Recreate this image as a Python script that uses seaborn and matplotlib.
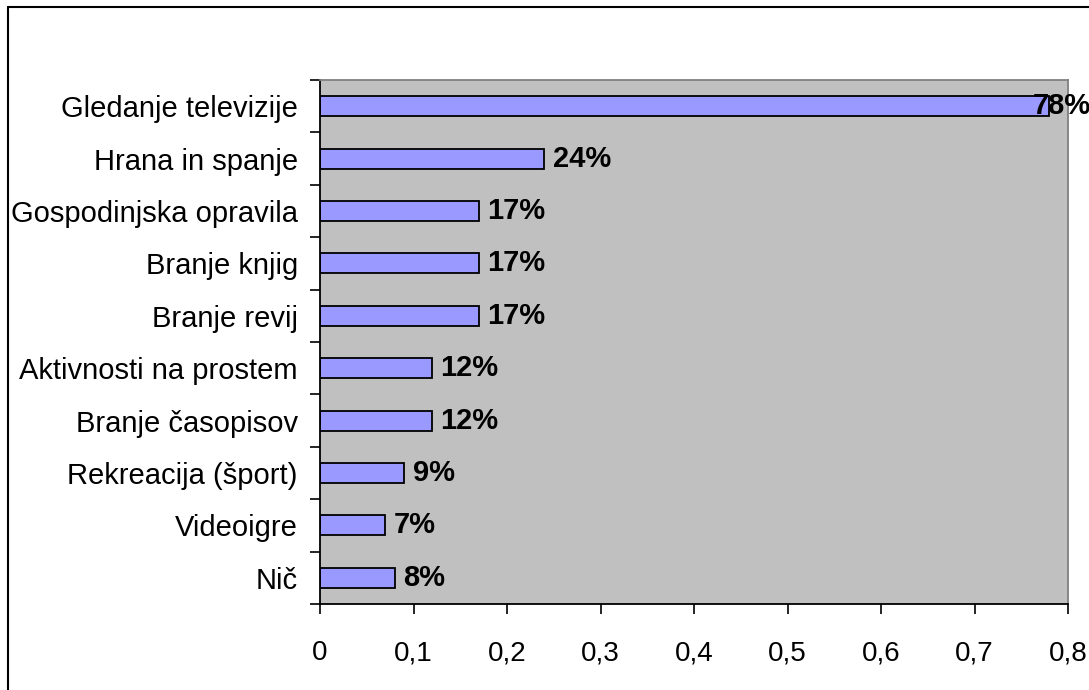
import numpy as np
import matplotlib
matplotlib.use("Agg")
import matplotlib.pyplot as plt
from matplotlib.lines import Line2D
from matplotlib.ticker import FuncFormatter, FixedLocator
import seaborn as sns

activities = ["Gledanje televizije", "Hrana in spanje", "Gospodinjska opravila",
              "Branje knjig", "Branje revij", "Aktivnosti na prostem",
              "Branje časopisov", "Rekreacija (šport)", "Videoigre", "Nič"]
shares = [0.78, 0.24, 0.17, 0.17, 0.17, 0.12, 0.12, 0.09, 0.07, 0.08]
xticks = [0, 0.1, 0.2, 0.3, 0.4, 0.5, 0.6, 0.7, 0.8]

sns.set_theme(style="white")
plt.rcParams['font.family'] = ['Liberation Sans', 'DejaVu Sans']
plt.rcParams['text.color'] = 'black'
plt.rcParams['xtick.color'] = 'black'
plt.rcParams['ytick.color'] = 'black'

fig = plt.figure(figsize=(10.89, 6.90), dpi=100)
ax = fig.add_axes([320 / 1089, 1 - 604 / 690, 748 / 1089, 524 / 690])

sns.barplot(x=shares, y=activities, orient='h', color='#9999FF',
            saturation=1, edgecolor='black', linewidth=1.3, width=0.38, ax=ax)

ax.set_facecolor('#C0C0C0')
ax.set_xlim(0, 0.8)
ax.set_ylim(len(activities) - 0.5, -0.5)
ax.set_xlabel('')
ax.set_ylabel('')

ax.set_xticks(xticks)
ax.xaxis.set_major_formatter(FuncFormatter(lambda v, p: '0' if v == 0 else f"{v:.1f}".replace('.', ',')))
ax.tick_params(axis='x', direction='out', length=7, width=1.2, color='black',
               labelcolor='black', labelsize=20, pad=19, bottom=True)
ax.tick_params(axis='y', which='major', length=0, labelsize=21, labelcolor='black', pad=16)
ax.yaxis.set_minor_locator(FixedLocator(np.arange(-0.5, len(activities), 1.0)))
ax.tick_params(axis='y', which='minor', direction='out', length=7, width=1.2,
               color='black', left=True)

for side in ['left', 'bottom']:
    ax.spines[side].set_color('black')
    ax.spines[side].set_linewidth(1.3)
for side in ['top', 'right']:
    ax.spines[side].set_color('#808080')
    ax.spines[side].set_linewidth(1.3)

for i, v in enumerate(shares):
    ax.text(min(v + 0.009, 0.762), i, f"{round(v * 100)}%", va='center', ha='left',
            fontsize=21, fontweight='bold', color='black')

# outer chart frame (left and top edges visible)
fig.add_artist(Line2D([8 / 1089, 8 / 1089], [0, 1 - 7 / 690], color='black', linewidth=1.5))
fig.add_artist(Line2D([8 / 1089, 1], [1 - 7 / 690, 1 - 7 / 690], color='black', linewidth=1.5))

fig.savefig('out.png', dpi=100)
